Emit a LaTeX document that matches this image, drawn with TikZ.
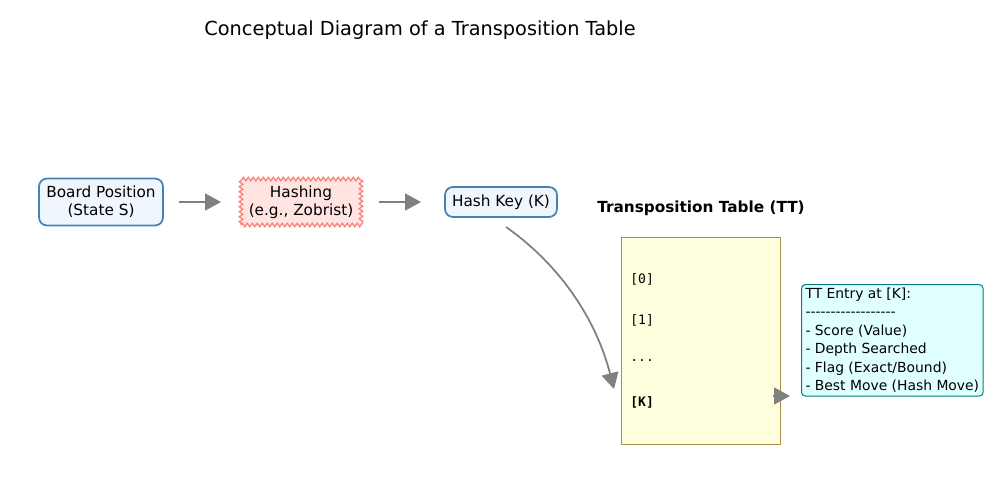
\documentclass[tikz,border=0pt]{standalone}
\usepackage{fontspec}
\setmainfont{DejaVu Sans}
\setmonofont{DejaVu Sans Mono}
\usetikzlibrary{arrows.meta,decorations.pathmorphing}
\definecolor{boardfill}{RGB}{239,246,254}
\definecolor{boardline}{RGB}{70,130,180}
\definecolor{hashfill}{RGB}{255,228,225}
\definecolor{hashline}{RGB}{250,128,114}
\definecolor{tablefill}{RGB}{255,255,224}
\definecolor{tableline}{RGB}{176,140,70}
\definecolor{entryfill}{RGB}{224,255,255}
\definecolor{entryline}{RGB}{0,128,128}
\definecolor{flowgray}{RGB}{128,128,128}
\newcommand{\bodysize}{\fontsize{8.7}{10.4}\selectfont}
\newcommand{\entrysize}{\fontsize{7.9}{10.5}\selectfont}
\newcommand{\slotsize}{\fontsize{7.4}{9}\selectfont}

\begin{document}
\begin{tikzpicture}[x=0.02cm, y=-0.02cm,
	stagebox/.style={draw=boardline, fill=boardfill, line width=0.35mm, rounded corners=1.6mm, align=center, font=\bodysize, inner sep=0pt},
	hashbox/.style={draw=hashline, fill=hashfill, line width=0.25mm, align=center, font=\bodysize, inner sep=0pt,
		decorate, decoration={zigzag, segment length=1mm, amplitude=0.35mm}},
	slot/.style={anchor=west, font=\slotsize\ttfamily, inner sep=0pt},
	flow/.style={draw=flowgray, line width=0.35mm, -{Triangle[length=3.2mm, width=3.4mm]}}]
		%%%%% START %%%%%
		
		\useasboundingbox (0, 0) rectangle (1000, 500);
		
		\node[font=\fontsize{11}{13}\selectfont] (title) at (420, 30) {Conceptual Diagram of a Transposition Table};
		
		\node[stagebox, minimum width=2.48cm, minimum height=0.94cm] (board) at (101, 202) {Board Position\\(State S)};
		\node[hashbox, minimum width=2.4cm, minimum height=0.92cm] (hashing) at (301, 202) {Hashing\\(e.g., Zobrist)};
		\node[stagebox, minimum width=2.24cm, minimum height=0.6cm] (key) at (501, 202) {Hash Key (K)};
		
		\draw[flow] (179, 202) -- (221, 202);
		\draw[flow] (379, 202) -- (421, 202);
		
		\node[font=\bodysize\bfseries] (tttitle) at (701, 208) {Transposition Table (TT)};
		\node[draw=tableline, fill=tablefill, line width=0.2mm, minimum width=3.2cm, minimum height=4.16cm, inner sep=0pt] (table) at (701, 341) {};
		
		\node[slot] (s0) at (630, 279) {[0]};
		\node[slot] (s1) at (630, 320) {[1]};
		\node[slot] (sdots) at (630, 361) {...};
		\node[slot, font=\slotsize\ttfamily\bfseries] (sk) at (630, 402) {[K]};
		
		\coordinate (kin) at (614, 389);
		\draw[flow] (506, 227) .. controls (560, 265) and (596, 319) .. (kin);
		
		\node[draw=entryline, fill=entryfill, line width=0.2mm, rounded corners=0.8mm, align=left, font=\entrysize,
			inner xsep=0.8mm, inner ysep=0.7mm, anchor=north west] (entry) at (801, 284)
			{TT Entry at [K]:\\-{}-{}-{}-{}-{}-{}-{}-{}-{}-{}-{}-{}-{}-{}-{}-{}-{}-\\- Score (Value)\\- Depth Searched\\- Flag (Exact/Bound)\\- Best Move (Hash Move)};
		
		\coordinate (kout) at (773, 396);
		\draw[flow] (kout) -- (790, 396);
		
		%%%%% END %%%%%
	\end{tikzpicture}
\end{document}
